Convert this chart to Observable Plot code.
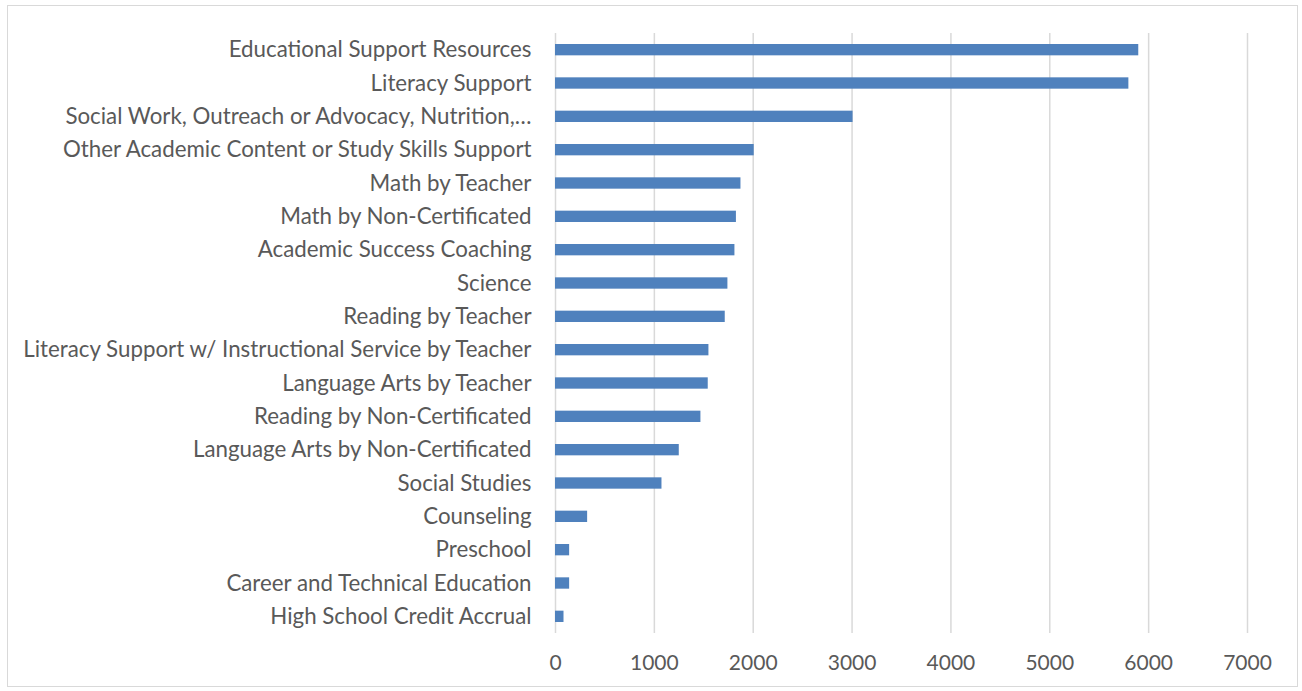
<!DOCTYPE html>
<html>
<head>
<meta charset="utf-8">
<script src="https://cdn.jsdelivr.net/npm/d3@7"></script>
<script src="https://cdn.jsdelivr.net/npm/@observablehq/plot@0.6"></script>
<style>
  html, body { margin: 0; padding: 0; background: #fff; }
  #wrap { position: relative; width: 1302px; height: 691px; }
  #border { position: absolute; left: 7px; top: 5px; width: 1289px; height: 680px; border: 1px solid #d9d9d9; pointer-events: none; }
</style>
</head>
<body>
<div id="wrap"><div id="border"></div></div>
<script>
const categories = [
  "Educational Support Resources",
  "Literacy Support",
  "Social Work, Outreach or Advocacy, Nutrition,…",
  "Other Academic Content or Study Skills Support",
  "Math by Teacher",
  "Math by Non-Certificated",
  "Academic Success Coaching",
  "Science",
  "Reading by Teacher",
  "Literacy Support w/ Instructional Service by Teacher",
  "Language Arts by Teacher",
  "Reading by Non-Certificated",
  "Language Arts by Non-Certificated",
  "Social Studies",
  "Counseling",
  "Preschool",
  "Career and Technical Education",
  "High School Credit Accrual"
];
const values = [5900, 5800, 3010, 2010, 1876, 1830, 1815, 1744, 1717, 1552, 1545, 1471, 1252, 1077, 325, 143, 143, 86];
const xTicks = [0, 1000, 2000, 3000, 4000, 5000, 6000, 7000];

const data = categories.map((c, i) => ({category: c, value: values[i]}));

const chart = Plot.plot({
  width: 1302,
  height: 691,
  marginLeft: 555,
  marginRight: 55,
  marginTop: 33,
  marginBottom: 58,
  style: {fontFamily: "Lato, 'Noto Sans', sans-serif", fontSize: "22px", color: "#595959", background: "transparent"},
  x: {domain: [0, 7000], ticks: xTicks, label: null},
  y: {domain: categories, paddingInner: 0.66, paddingOuter: 0.33, round: false, label: null},
  marks: [
    Plot.gridX(xTicks, {stroke: "#d9d9d9", strokeWidth: 1.5, strokeOpacity: 1}),
    Plot.barX(data, {x: "value", y: "category", fill: "#4f81bd"}),
    Plot.axisX(xTicks, {tickSize: 0, tickPadding: 22, fontSize: 21, label: null, tickFormat: d => String(d)}),
    Plot.axisY({tickSize: 0, tickPadding: 24, fontSize: 22.3, label: null})
  ]
});
document.getElementById("wrap").appendChild(chart);
chart.style.position = "absolute";
chart.style.left = "0";
chart.style.top = "0";
</script>
</body>
</html>
